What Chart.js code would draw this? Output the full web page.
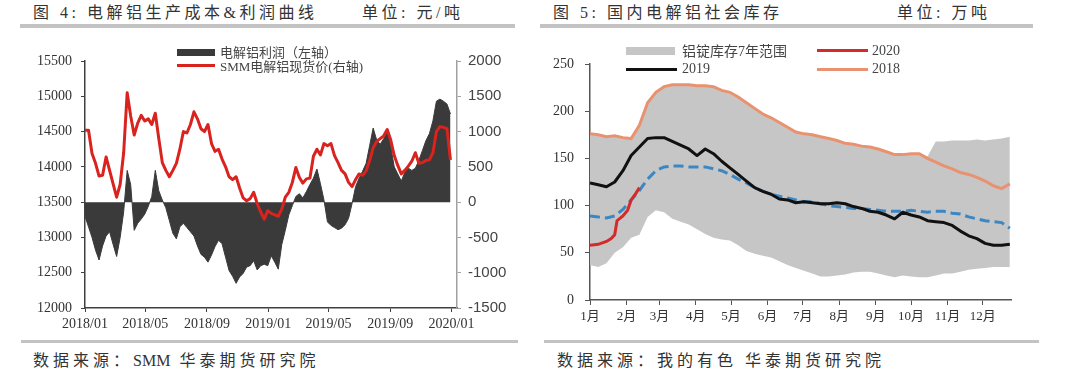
<!DOCTYPE html>
<html>
<head>
<meta charset="utf-8">
<script src="https://cdn.jsdelivr.net/npm/chart.js@4.4.1/dist/chart.umd.min.js"></script>
<style>
body{margin:0;width:1080px;height:391px;background:#fff;position:relative;overflow:hidden;font-family:'Liberation Serif','Noto Sans CJK SC',serif;color:#333}
.t{position:absolute;top:3px;font-size:16px;letter-spacing:3.5px;white-space:nowrap;line-height:20px}
.rule{position:absolute;background:#c3c3c3}
.src{position:absolute;top:351px;font-size:16px;letter-spacing:4px;white-space:nowrap;line-height:20px}
.src span{letter-spacing:0;margin-right:9px}
.lg{position:absolute;white-space:nowrap;line-height:16px;color:#444}
.sw{position:absolute}
canvas{position:absolute;top:0}
</style>
</head>
<body>
<div class="t" style="left:33px">图 4: 电解铝生产成本&amp;利润曲线</div>
<div class="t" style="left:362px">单位: 元/吨</div>
<div class="t" style="left:553px">图 5: 国内电解铝社会库存</div>
<div class="t" style="left:897px">单位: 万吨</div>
<div class="rule" style="left:20px;top:24px;width:495px;height:4px"></div>
<div class="rule" style="left:540px;top:24px;width:493px;height:4px"></div>

<canvas id="c1" width="520" height="340" style="left:0"></canvas>
<canvas id="c2" width="520" height="340" style="left:520px"></canvas>

<!-- 图4 图例 -->
<div class="sw" style="left:177px;top:49px;width:38px;height:7px;background:#3a3a3a"></div>
<div class="lg" style="left:220px;top:45px;font-size:13px">电解铝利润（左轴）</div>
<div class="sw" style="left:177px;top:64px;width:38px;height:3px;background:#d8231e"></div>
<div class="lg" style="left:220px;top:59px;font-size:13px">SMM电解铝现货价(右轴)</div>

<!-- 图5 图例 -->
<div class="sw" style="left:626px;top:47px;width:49px;height:8px;background:#c6c6c6"></div>
<div class="lg" style="left:682px;top:44px;font-size:14px">铝锭库存7年范围</div>
<div class="sw" style="left:626px;top:68px;width:51px;height:3px;background:#111"></div>
<div class="lg" style="left:682px;top:61px;font-size:14px">2019</div>
<div class="sw" style="left:817px;top:49px;width:51px;height:3px;background:#d42a2a"></div>
<div class="lg" style="left:872px;top:43px;font-size:14px">2020</div>
<div class="sw" style="left:817px;top:68px;width:51px;height:3px;background:#e9926f"></div>
<div class="lg" style="left:872px;top:61px;font-size:14px">2018</div>

<div class="rule" style="left:21px;top:340px;width:497px;height:3px"></div>
<div class="rule" style="left:544px;top:340px;width:495px;height:3px"></div>
<div class="src" style="left:33px">数据来源：<span>SMM</span>华泰期货研究院</div>
<div class="src" style="left:557px">数据来源：我的有色 华泰期货研究院</div>

<script>
// ---- 图4：周度数据，2018/01 起 ----
const leftTickDays=[0,120,243,365,485,608,730];
const leftTickLabels=['2018/01','2018/05','2018/09','2019/01','2019/05','2019/09','2020/01'];
const priceVals=[14520,14520,14190,14050,13870,13880,14140,13950,13760,13570,
  13750,14200,15050,14720,14450,14620,14730,14650,14680,14600,
  14760,14400,14060,13950,13860,13950,14050,14250,14500,14480,
  14600,14780,14680,14540,14500,14600,14330,14220,14250,14110,
  14000,13860,13820,13860,13700,13560,13520,13550,13640,13480,
  13360,13260,13380,
  13340,13320,13300,13400,13570,13640,13780,
  13990,13850,13770,13830,13840,14150,14250,14170,14330,14300,
  14330,14160,14060,13950,13900,13780,13720,13820,13900,13880,
  13940,14090,14270,14360,14400,14440,14530,14380,14160,14020,
  13900,13950,14010,14080,14200,14050,14060,14090,14100,14200,
  14500,14570,14560,14540,14100];
const profitVals=[-200,-350,-500,-680,-820,-620,-480,-420,-600,-770,
  -500,-140,450,250,-400,-300,-240,-170,-60,80,
  450,160,30,-80,-260,-440,-520,-350,-300,-360,
  -420,-480,-620,-740,-780,-850,-750,-630,-540,-590,
  -780,-970,-1050,-1150,-1060,-1010,-920,-900,-830,-960,
  -900,-880,-900,
  -760,-850,-950,-600,-400,-180,-50,
  80,120,60,150,250,340,470,260,30,-280,
  -330,-360,-390,-370,-320,-230,-20,220,340,440,
  550,800,1050,880,820,900,1000,790,500,400,
  300,420,480,450,480,590,730,870,970,1150,
  1430,1460,1430,1390,1250];

// ---- 图5：周度数据，1月1日起 ----
const monthDays=[0,31,59,90,120,151,181,212,243,273,304,334];
const monthLabels=['1月','2月','3月','4月','5月','6月','7月','8月','9月','10月','11月','12月'];
const inv2018=[176,175,173,174,172,171,185,209,220,226,
  228,228,228,227,227,226,222,220,215,209,
  203,197,193,188,183,178,176,175,173,171,
  169,166,165,163,162,160,157,154,154,155,
  155,150,146,142,139,135,133,130,126,121,
  118,123];
const inv2019=[124,122,120,125,137,153,162,171,172,172,
  168,164,160,153,160,155,147,140,133,126,
  119,115,112,107,106,103,104,103,102,102,
  103,102,99,97,94,93,90,86,93,90,
  88,84,83,82,79,73,68,65,60,58,
  58,59];
const invAvg=[89,88,87,89,96,106,116,128,137,141,
  142,142,141,141,141,139,137,133,128,124,
  119,115,112,110,108,106,104,104,102,100,
  99,98,97,97,96,95,94,94,94,95,
  94,93,94,94,92,91,88,86,84,83,
  82,76];
const bandHigh=[175,174,172,173,171,170,184,208,219,225,
  227,227,227,226,226,225,221,219,214,208,
  202,196,192,187,182,177,175,174,172,170,
  168,165,164,162,161,159,156,153,153,154,
  154,152,168,168,169,169,169,170,169,170,
  171,173];
const bandLow=[37,35,39,50,56,66,69,88,95,93,
  86,83,80,75,70,66,64,63,58,52,
  49,47,45,41,37,34,31,28,25,25,
  26,27,29,30,30,28,26,24,26,25,
  24,24,26,28,28,30,32,33,34,35,
  35,35];
const days2020=[0,7,14,18,21,23,28,32,35,39,42];
const inv2020=[58,59,62,65,69,84,89,95,106,113,119];

const weekly=arr=>arr.map((v,i)=>({x:i*7,y:v}));
const serif="'Liberation Serif','Noto Sans CJK SC',serif";
const plain=v=>String(v);

new Chart(document.getElementById('c1'),{
  type:'line',
  data:{datasets:[
    {label:'SMM电解铝现货价',data:weekly(priceVals),yAxisID:'y',borderColor:'#d8231e',borderWidth:3,pointRadius:0,borderJoinStyle:'round',order:0},
    {label:'电解铝利润',data:weekly(profitVals),yAxisID:'y1',borderColor:'#3a3a3a',backgroundColor:'#3a3a3a',borderWidth:1,pointRadius:0,fill:'origin',order:1}
  ]},
  options:{
    responsive:false,animation:false,
    layout:{padding:{left:25,top:61,right:13,bottom:7}},
    plugins:{legend:{display:false},tooltip:{enabled:false}},
    scales:{
      x:{type:'linear',min:0,max:741,
        afterBuildTicks:s=>{s.ticks=leftTickDays.map(v=>({value:v}));},
        afterFit:s=>{s.height=25;},
        ticks:{autoSkip:false,maxRotation:0,padding:4,color:'#333',font:{family:serif,size:14},callback:(v,i)=>leftTickLabels[i]},
        grid:{drawOnChartArea:false,tickLength:4,color:'#404040'},
        border:{color:'#404040',width:1.5}},
      y:{position:'left',min:12000,max:15500,
        afterFit:s=>{s.width=60;},
        ticks:{stepSize:500,padding:9,color:'#333',font:{family:serif,size:14},callback:plain},
        grid:{drawOnChartArea:false,tickLength:4,color:'#404040'},
        border:{color:'#404040',width:1.5}},
      y1:{position:'right',min:-1500,max:2000,
        afterFit:s=>{s.width=50;},
        ticks:{stepSize:500,padding:7,color:'#444',font:{family:"'Liberation Sans',sans-serif",size:15},callback:plain},
        grid:{drawOnChartArea:false,tickLength:4,color:'#a0a0a0'},
        border:{color:'#a0a0a0',width:1.5}}
    }
  }
});

new Chart(document.getElementById('c2'),{
  type:'line',
  data:{datasets:[
    {label:'2020',data:days2020.map((d,i)=>({x:d,y:inv2020[i]})),borderColor:'#d42a2a',borderWidth:3,pointRadius:0,order:0},
    {label:'2019',data:weekly(inv2019),borderColor:'#111',borderWidth:3,pointRadius:0,borderJoinStyle:'round',order:1},
    {label:'均值',data:weekly(invAvg),borderColor:'#3b87c4',borderWidth:3,borderDash:[10,5],pointRadius:0,order:2},
    {label:'2018',data:weekly(inv2018),borderColor:'#e9926f',borderWidth:3,pointRadius:0,order:3},
    {label:'铝锭库存7年范围',data:weekly(bandHigh),borderWidth:0,backgroundColor:'#c6c6c6',pointRadius:0,fill:'+1',order:4},
    {label:'下限',data:weekly(bandLow),borderWidth:0,pointRadius:0,fill:false,order:5}
  ]},
  options:{
    responsive:false,animation:false,
    layout:{padding:{left:10,top:64,right:29,bottom:15}},
    plugins:{legend:{display:false},tooltip:{enabled:false}},
    scales:{
      x:{type:'linear',min:0,max:358,
        afterBuildTicks:s=>{s.ticks=monthDays.map(v=>({value:v}));},
        afterFit:s=>{s.height=25;},
        ticks:{autoSkip:false,maxRotation:0,padding:4,color:'#333',font:{family:serif,size:13},callback:(v,i)=>monthLabels[i]},
        grid:{drawOnChartArea:false,tickLength:5,color:'#555'},
        border:{color:'#555',width:1.5}},
      y:{min:0,max:250,
        afterFit:s=>{s.width=60;},
        ticks:{stepSize:50,padding:11,color:'#333',font:{family:serif,size:14},callback:plain},
        grid:{drawOnChartArea:false,tickLength:5,color:'#555'},
        border:{color:'#555',width:1.5}}
    }
  }
});
</script>
</body>
</html>
